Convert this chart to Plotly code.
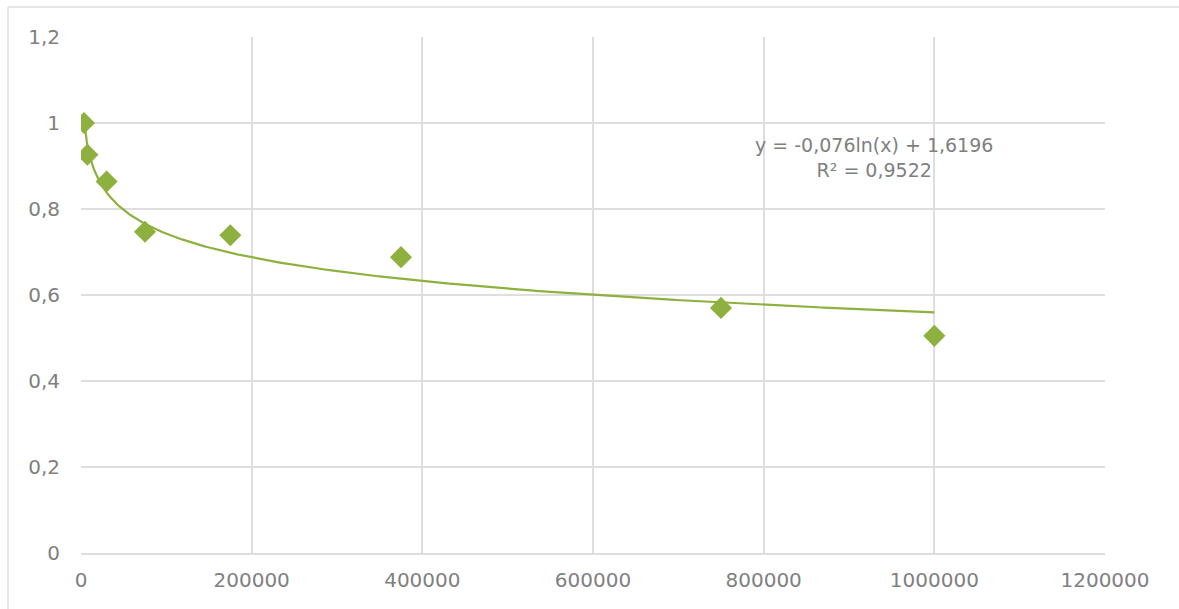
import numpy as np
import plotly.graph_objects as go

x_values = [3500, 7500, 30000, 75000, 175000, 375000, 750000, 1000000]
y_values = [1.0, 0.926, 0.864, 0.747, 0.739, 0.688, 0.570, 0.505]
x_ticks = [0, 200000, 400000, 600000, 800000, 1000000, 1200000]
y_ticks = [0, 0.2, 0.4, 0.6, 0.8, 1.0, 1.2]
y_tick_labels = ["0", "0,2", "0,4", "0,6", "0,8", "1", "1,2"]
trend_text = "y = -0,076ln(x) + 1,6196<br>R² = 0,9522"

GREEN = "#8db03f"
GRID = "#dedede"
TEXT = "#808080"
FONT = "DejaVu Sans"

# logarithmic trendline fitted from the data
xa = np.array(x_values, dtype=float)
ya = np.array(y_values, dtype=float)
b, a = np.polyfit(np.log(xa), ya, 1)
xt = np.linspace(xa.min(), xa.max(), 600)
yt = a + b * np.log(xt)

fig = go.Figure()
fig.add_trace(go.Scatter(x=xt, y=yt, mode="lines",
                         line=dict(color=GREEN, width=2.2), hoverinfo="skip",
                         showlegend=False))
fig.add_trace(go.Scatter(x=x_values, y=y_values, mode="markers",
                         marker=dict(symbol="diamond", size=17, color=GREEN),
                         showlegend=False))

L, R, T, B = 81, 74, 37, 56
W, H = 1179, 609
pw, ph = W - L - R, H - T - B
bx = (8 - L) / pw
by = (H - B - 7) / ph

fig.update_layout(
    width=W, height=H,
    margin=dict(l=L, r=R, t=T, b=B),
    paper_bgcolor="white", plot_bgcolor="white",
    font=dict(family=FONT, size=18, color=TEXT),
    xaxis=dict(range=[0, 1200000], tickvals=x_ticks,
               ticktext=[str(v) for v in x_ticks],
               showgrid=True, gridcolor=GRID, gridwidth=1.5,
               zeroline=False, showline=True, linecolor=GRID, linewidth=1.5,
               ticks="", ticklabelstandoff=8,
               tickfont=dict(family=FONT, size=20, color=TEXT)),
    yaxis=dict(range=[0, 1.2], tickvals=y_ticks, ticktext=y_tick_labels,
               showgrid=True, gridcolor=GRID, gridwidth=1.5,
               zeroline=False, showline=False, ticks="", ticklabelstandoff=20,
               tickfont=dict(family=FONT, size=20, color=TEXT)),
    annotations=[dict(text=trend_text, xref="paper", yref="paper",
                      x=(874 - L) / pw, y=(H - B - 157) / ph,
                      xanchor="center", yanchor="middle", showarrow=False,
                      align="center",
                      font=dict(family=FONT, size=19, color=TEXT))],
    shapes=[
        dict(type="line", xref="paper", yref="paper", x0=bx, x1=bx,
             y0=by, y1=-0.3, line=dict(color=GRID, width=1.5)),
        dict(type="line", xref="paper", yref="paper", x0=bx, x1=1.2,
             y0=by, y1=by, line=dict(color=GRID, width=1.5)),
    ],
)

fig.write_html("out.html", config={"displayModeBar": False},
               post_script="document.body.style.margin='0px';document.body.style.overflow='hidden';")
